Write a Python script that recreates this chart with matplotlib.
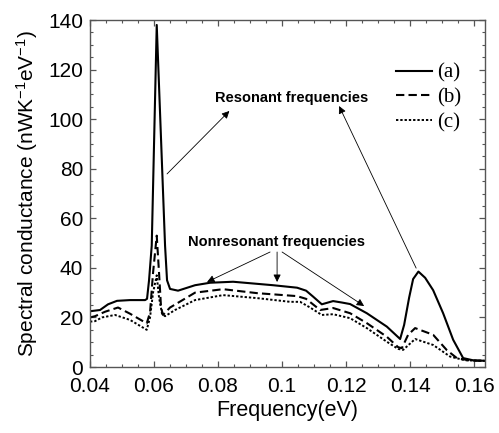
import matplotlib
matplotlib.use("Agg")
import matplotlib.pyplot as plt
from matplotlib.ticker import MultipleLocator

# -------------------------------------------------------------
# Data
# -------------------------------------------------------------
freq_a = [0.0400, 0.04313, 0.04563, 0.04844, 0.0525, 0.05719, 0.05781, 0.05844,
          0.05928, 0.06084, 0.06344, 0.06406, 0.065, 0.0675, 0.07281, 0.0775,
          0.08469, 0.09719, 0.10469, 0.1075, 0.10969, 0.11241, 0.11594, 0.11875,
          0.12125, 0.12647, 0.13272, 0.13688, 0.13813, 0.13969, 0.14094, 0.14259,
          0.14469, 0.14719, 0.15031, 0.15344, 0.15656, 0.15969, 0.16344]
cond_a = [22.5, 23.0, 25.3, 26.7, 27.0, 27.0, 27.5, 35.0,
          49.0, 138.0, 49.0, 35.0, 31.5, 30.8, 33.0, 34.0,
          34.4, 33.0, 32.0, 30.8, 28.4, 25.3, 26.6, 26.0,
          25.4, 21.7, 16.3, 11.3, 17.0, 28.0, 35.5, 38.5,
          36.0, 31.0, 21.7, 11.0, 3.6, 2.7, 2.5]

freq_b = [0.0400, 0.04156, 0.04469, 0.04875, 0.0525, 0.05772, 0.05875, 0.05969,
          0.06084, 0.06156, 0.06219, 0.06281, 0.065, 0.07281, 0.08156, 0.09219,
          0.10469, 0.1075, 0.11188, 0.11594, 0.12125, 0.12647, 0.13272, 0.13625,
          0.13741, 0.13938, 0.14156, 0.14719, 0.15147, 0.1546, 0.15875, 0.16344]
cond_b = [20.0, 20.5, 22.3, 24.0, 21.5, 17.6, 22.0, 38.0,
          53.0, 38.0, 24.0, 21.0, 24.0, 30.0, 31.4, 29.8,
          28.6, 27.5, 23.0, 23.8, 21.7, 17.7, 12.2, 8.0,
          7.6, 13.0, 15.7, 13.0, 6.8, 3.6, 2.6, 2.5]

freq_c = [0.0400, 0.04156, 0.04375, 0.04781, 0.0525, 0.05772, 0.05875, 0.05969,
          0.06084, 0.06156, 0.0625, 0.06344, 0.06656, 0.07281, 0.08156, 0.09219,
          0.1025, 0.10563, 0.10875, 0.11241, 0.11594, 0.12125, 0.12647, 0.13272,
          0.13625, 0.13781, 0.14156, 0.14719, 0.1525, 0.15719, 0.16344]
cond_c = [18.3, 18.5, 20.0, 21.0, 19.0, 15.0, 20.0, 30.0,
          37.0, 28.0, 21.5, 20.5, 23.0, 27.0, 29.0, 27.8,
          26.3, 26.3, 24.0, 21.0, 21.3, 19.7, 15.7, 10.2,
          7.3, 6.9, 11.3, 8.9, 4.2, 2.7, 2.5]

labels = ["(a)", "(b)", "(c)"]

plt.rcParams['font.family'] = ['Liberation Sans', 'DejaVu Sans']
plt.rcParams['mathtext.default'] = 'regular'

fig = plt.figure(figsize=(4.99, 4.33), dpi=100)
ax = fig.add_axes([0.1804, 0.1524, 0.7916, 0.8014])

ax.plot(freq_a, cond_a, color='black', lw=1.5, linestyle='-', label=labels[0])
ax.plot(freq_b, cond_b, color='black', lw=1.5, linestyle=(0, (4, 2)), label=labels[1])
ax.plot(freq_c, cond_c, color='black', lw=1.4, linestyle=(0, (1.2, 1.0)), label=labels[2])

ax.set_xlim(0.04, 0.1634)
ax.set_ylim(0, 140)

ax.xaxis.set_minor_locator(MultipleLocator(0.005))
ax.yaxis.set_major_locator(MultipleLocator(20))
ax.yaxis.set_minor_locator(MultipleLocator(5))
ax.set_xticks([0.04, 0.06, 0.08, 0.10, 0.12, 0.14, 0.16])
ax.set_xticklabels(["0.04", "0.06", "0.08", "0.1", "0.12", "0.14", "0.16"])

ax.tick_params(which='both', direction='in', top=True, right=True,
               color='#555555', labelsize=15)
ax.tick_params(axis='x', pad=7)
ax.tick_params(axis='y', pad=5)
ax.tick_params(which='major', length=4.5, width=0.9)
ax.tick_params(which='minor', length=2.5, width=0.8)
for sp in ax.spines.values():
    sp.set_color('#555555')
    sp.set_linewidth(1.0)

ax.set_xlabel("Frequency(eV)", fontsize=15.5, labelpad=3)
ax.set_ylabel("Spectral conductance (nWK$^{-1}$eV$^{-1}$)", fontsize=15, labelpad=6)

# -------------------------------------------------------------
# Annotations
# -------------------------------------------------------------
arrow_kw = dict(arrowstyle='-|>', color='black', lw=0.6,
                mutation_scale=11, shrinkA=0, shrinkB=0)

ax.text(0.10313, 108.5, "Resonant frequencies", fontsize=10.5, fontweight='bold',
        ha='center', va='center')
ax.annotate("", xy=(0.08353, 103.3), xytext=(0.06406, 77.9), arrowprops=arrow_kw)
ax.annotate("", xy=(0.11781, 105.3), xytext=(0.14188, 39.9), arrowprops=arrow_kw)

ax.text(0.09828, 50.5, "Nonresonant frequencies", fontsize=10.5, fontweight='bold',
        ha='center', va='center')
ax.annotate("", xy=(0.07656, 34.3), xytext=(0.09625, 46.4), arrowprops=arrow_kw)
ax.annotate("", xy=(0.09844, 34.3), xytext=(0.09844, 46.4), arrowprops=arrow_kw)
ax.annotate("", xy=(0.12563, 24.6), xytext=(0.1000, 46.4), arrowprops=arrow_kw)

ax.legend(loc='upper right', bbox_to_anchor=(0.965, 0.905), frameon=False,
          prop={'family': 'Liberation Serif', 'size': 15},
          handlelength=1.75, handletextpad=0.2, labelspacing=0.25, borderpad=0)

fig.savefig("out.png", dpi=100)
